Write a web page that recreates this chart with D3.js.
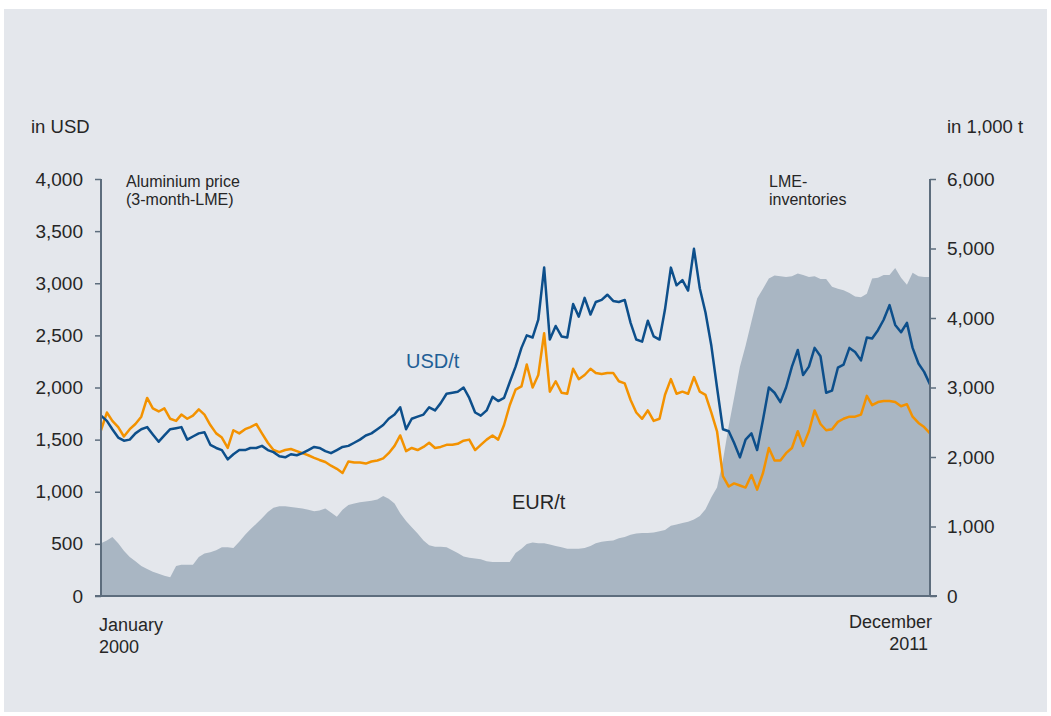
<!DOCTYPE html>
<html>
<head>
<meta charset="utf-8">
<script src="https://cdn.jsdelivr.net/npm/d3@7"></script>
<style>
  body { margin: 0; background: #fff; }
  text { font-family: "Liberation Sans", Arial, sans-serif; }
</style>
</head>
<body>
<div id="chart"></div>
<script>
// monthly readings, Jan 2000 .. Jan 2012 (end of Dec 2011)
const startMonth = new Date(2000, 0, 1);

const usdPrice = [
  1730, 1680, 1600, 1520, 1490, 1500, 1560, 1600, 1620, 1550, 1480, 1540,
  1600, 1610, 1620, 1500, 1530, 1560, 1570, 1450, 1420, 1400, 1310, 1360,
  1400, 1400, 1420, 1420, 1440, 1400, 1380, 1340, 1330, 1360, 1350, 1370,
  1400, 1430, 1420, 1390, 1370, 1400, 1430, 1440, 1470, 1500, 1540, 1560,
  1600, 1640, 1700, 1740, 1810, 1600, 1700, 1720, 1740, 1810, 1780, 1850,
  1940, 1950, 1960, 2000, 1900, 1760, 1730, 1780, 1910, 1870, 1900, 2050,
  2200, 2380, 2500, 2480, 2650, 3150, 2460, 2590, 2490, 2480, 2800, 2680,
  2860, 2700, 2820, 2840, 2890, 2830, 2820, 2840, 2620, 2460, 2440, 2640,
  2490, 2460, 2750, 3150, 2980, 3030, 2930, 3330, 2950, 2720, 2400, 2000,
  1600, 1580, 1470, 1330, 1500, 1560, 1400, 1690, 2000, 1950, 1860, 2000,
  2200, 2360, 2120, 2200, 2380, 2300, 1950, 1970, 2190, 2220, 2380, 2340,
  2260, 2480, 2470, 2550, 2650, 2790, 2600, 2530, 2620, 2380, 2230, 2150,
  2030
];

const eurPrice = [
  1590, 1760, 1680, 1620, 1530, 1600, 1650, 1720, 1900, 1800, 1770, 1800,
  1700, 1680, 1740, 1700, 1730, 1790, 1740, 1640, 1560, 1520, 1420, 1590,
  1560, 1600, 1620, 1650, 1560, 1470, 1400, 1380, 1400, 1410, 1390, 1370,
  1350, 1325, 1305, 1285, 1250, 1220, 1180, 1290, 1280, 1280, 1270, 1290,
  1300, 1320, 1370, 1440, 1540, 1390, 1420, 1400, 1430, 1470, 1420, 1430,
  1450, 1450, 1460, 1490, 1500, 1400, 1450, 1500, 1540, 1500, 1640, 1830,
  1980, 2010, 2220, 2000, 2120, 2520, 1960, 2060, 1950, 1940, 2180, 2080,
  2120, 2180, 2140, 2130, 2140, 2140, 2060, 2040, 1880, 1760, 1700, 1780,
  1680, 1700, 1930, 2080, 1940, 1960, 1940, 2100, 1960, 1930, 1760, 1580,
  1150, 1050, 1080, 1060, 1040, 1160, 1020, 1180, 1420, 1300, 1300, 1370,
  1420, 1580, 1440, 1580, 1780, 1650, 1590, 1600, 1670, 1700, 1720, 1720,
  1740, 1920, 1830, 1860, 1870, 1870, 1860, 1820, 1840, 1720, 1660, 1620,
  1560
];

// LME inventories in 1,000 t
const inventories = [
  760, 800, 850, 760, 650, 560, 500, 430, 390, 350, 320, 290,
  270, 430, 450, 450, 450, 560, 610, 630, 660, 700, 700, 690,
  780, 880, 960, 1040, 1120, 1210, 1270, 1290, 1290, 1280, 1270, 1260,
  1240, 1220, 1230, 1260, 1200, 1140, 1240, 1310, 1330, 1350, 1360, 1370,
  1390, 1440, 1400, 1330, 1190, 1080, 990, 900, 800, 730, 710, 710,
  700, 660, 620, 570, 550, 540, 530, 500, 490, 490, 490, 490,
  620, 680, 750, 770, 760, 760, 740, 720, 700, 680, 680, 680,
  690, 720, 760, 780, 790, 800, 830, 850, 880, 900, 905, 905,
  915, 930, 950, 1010, 1030, 1050, 1070, 1100, 1150, 1250, 1420, 1560,
  1950, 2450, 2850, 3300, 3600, 3950, 4280, 4420, 4570, 4610, 4600, 4590,
  4600, 4640, 4620, 4590, 4600, 4560, 4560, 4450, 4420, 4400, 4360, 4310,
  4300, 4350, 4570, 4580, 4620, 4620, 4720, 4580, 4480, 4650, 4600, 4590,
  4590
];

const leftTicks = [0, 500, 1000, 1500, 2000, 2500, 3000, 3500, 4000];
const rightTicks = [0, 1000, 2000, 3000, 4000, 5000, 6000];

const dates = usdPrice.map((d, i) => d3.timeMonth.offset(startMonth, i));

const width = 1051;
const height = 716;
const margin = { top: 179, right: 121, bottom: 120, left: 101 };

const svg = d3.select("#chart")
  .append("svg")
  .attr("width", width)
  .attr("height", height);

// panel background
svg.append("rect")
  .attr("x", 4)
  .attr("y", 9)
  .attr("width", 1043)
  .attr("height", 703)
  .attr("fill", "#e4e7ec");

const x = d3.scaleTime()
  .domain([startMonth, dates[dates.length - 1]])
  .range([margin.left, width - margin.right]);

const yL = d3.scaleLinear()
  .domain([0, 4000])
  .range([height - margin.bottom, margin.top]);

const yR = d3.scaleLinear()
  .domain([0, 6000])
  .range([height - margin.bottom, margin.top]);

// inventories area
const area = d3.area()
  .x((d, i) => x(dates[i]))
  .y0(yR(0))
  .y1(d => yR(d));

svg.append("path")
  .datum(inventories)
  .attr("fill", "#a9b6c3")
  .attr("d", area);

// price lines
const line = d3.line()
  .x((d, i) => x(dates[i]))
  .y(d => yL(d));

svg.append("path")
  .datum(eurPrice)
  .attr("fill", "none")
  .attr("stroke", "#f39200")
  .attr("stroke-width", 2.5)
  .attr("stroke-linejoin", "round")
  .attr("d", line);

svg.append("path")
  .datum(usdPrice)
  .attr("fill", "none")
  .attr("stroke", "#0d4f8b")
  .attr("stroke-width", 2.5)
  .attr("stroke-linejoin", "round")
  .attr("d", line);

// axes
const axisColor = "#5d6d7d";
const textColor = "#262626";

const leftAxis = svg.append("g")
  .attr("transform", `translate(${margin.left},0)`)
  .call(d3.axisLeft(yL).tickValues(leftTicks).tickSize(6).tickPadding(12)
    .tickFormat(d3.format(",")));

const rightAxis = svg.append("g")
  .attr("transform", `translate(${width - margin.right},0)`)
  .call(d3.axisRight(yR).tickValues(rightTicks).tickSize(6).tickPadding(11)
    .tickFormat(d3.format(",")));

[leftAxis, rightAxis].forEach(g => {
  g.select(".domain").remove();
  g.selectAll(".tick line").attr("stroke", axisColor).attr("stroke-width", 1.5);
  g.selectAll(".tick text")
    .attr("fill", textColor)
    .style("font-size", "19px")
    .style("font-family", "'Liberation Sans', Arial, sans-serif");
});

svg.append("line")
  .attr("x1", margin.left).attr("x2", margin.left)
  .attr("y1", yL(4000)).attr("y2", yL(0) + 1)
  .attr("stroke", axisColor).attr("stroke-width", 2);

svg.append("line")
  .attr("x1", width - margin.right).attr("x2", width - margin.right)
  .attr("y1", yR(6000)).attr("y2", yR(0) + 1)
  .attr("stroke", axisColor).attr("stroke-width", 2);

svg.append("line")
  .attr("x1", margin.left - 6).attr("x2", width - margin.right + 7)
  .attr("y1", yL(0)).attr("y2", yL(0))
  .attr("stroke", axisColor).attr("stroke-width", 2);

// labels
const labels = [
  { text: "in USD", x: 31, y: 133, size: 18.5, anchor: "start", color: textColor },
  { text: "in 1,000 t", x: 947, y: 133, size: 18.5, anchor: "start", color: textColor },
  { text: "Aluminium price", x: 126, y: 187, size: 16, anchor: "start", color: textColor },
  { text: "(3-month-LME)", x: 126, y: 205, size: 16, anchor: "start", color: textColor },
  { text: "LME-", x: 769, y: 187, size: 16, anchor: "start", color: textColor },
  { text: "inventories", x: 769, y: 205, size: 16, anchor: "start", color: textColor },
  { text: "USD/t", x: 406, y: 368, size: 20, anchor: "start", color: "#1f5f96" },
  { text: "EUR/t", x: 512, y: 509, size: 20, anchor: "start", color: textColor },
  { text: "January", x: 99, y: 631, size: 18, anchor: "start", color: textColor },
  { text: "2000", x: 99, y: 653, size: 18, anchor: "start", color: textColor },
  { text: "December", x: 932, y: 628, size: 18, anchor: "end", color: textColor },
  { text: "2011", x: 928, y: 650, size: 18, anchor: "end", color: textColor }
];

labels.forEach(l => {
  svg.append("text")
    .attr("x", l.x)
    .attr("y", l.y)
    .attr("text-anchor", l.anchor)
    .style("font-size", l.size + "px")
    .attr("fill", l.color)
    .text(l.text);
});
</script>
</body>
</html>
